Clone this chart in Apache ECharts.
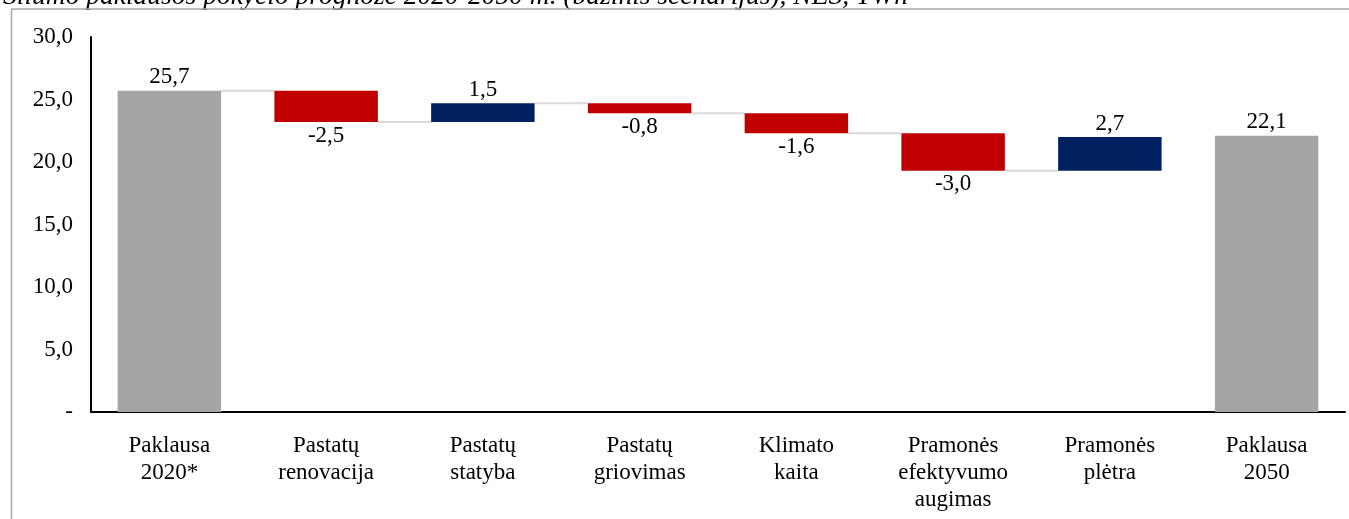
<!DOCTYPE html>
<html>
<head>
<meta charset="utf-8">
<script src="https://cdn.jsdelivr.net/npm/echarts@6/dist/echarts.min.js"></script>
<style>
html,body{margin:0;padding:0;background:#fff;}
#c{width:1349px;height:519px;}
</style>
</head>
<body>
<div id="c"></div>
<script>
const titleText = 'Šilumo paklausos pokyčio prognozė 2020-2050 m. (bazinis scenarijus), NES, TWh';
const categories = ['Paklausa\n2020*', 'Pastatų\nrenovacija', 'Pastatų\nstatyba', 'Pastatų\ngriovimas', 'Klimato\nkaita', 'Pramonės\nefektyvumo\naugimas', 'Pramonės\nplėtra', 'Paklausa\n2050'];
const startValue = 25.7;
const changes = [-2.5, 1.5, -0.8, -1.6, -3.0, 2.7];
const endValue = 22.1;
const yTicks = [0, 5, 10, 15, 20, 25, 30];

const GRAY = '#a5a5a5', RED = '#c00000', NAVY = '#002060';
const fmt = v => v.toFixed(1).replace('.', ',');

// build waterfall
const baseData = [0];
const barData = [{value: startValue, itemStyle: {color: GRAY}, lbl: fmt(startValue), pos: 'top'}];
const levels = [startValue];
let cur = startValue;
changes.forEach(d => {
  const next = +(cur + d).toFixed(4);
  baseData.push(Math.min(cur, next));
  barData.push({value: Math.abs(d), itemStyle: {color: d < 0 ? RED : NAVY}, lbl: fmt(d), pos: d < 0 ? 'bottom' : 'top'});
  cur = next;
  levels.push(cur);
});
baseData.push(0);
barData.push({value: endValue, itemStyle: {color: GRAY}, lbl: fmt(endValue), pos: 'top'});

const barSeriesData = barData.map(b => ({
  value: b.value, itemStyle: b.itemStyle,
  label: {show: true, position: b.pos, formatter: b.lbl, distance: 2}
}));
const connectorData = levels.map((l, i) => [i, l]);

const font = 'Liberation Serif';
const FS = 23;
const chart = echarts.init(document.getElementById('c'));
chart.setOption({
  animation: false,
  textStyle: {fontFamily: font, color: '#000'},
  title: {
    text: titleText, left: -2, top: -22,
    textStyle: {fontFamily: font, fontStyle: 'italic', fontWeight: 'normal', fontSize: 27.5, color: '#000'}
  },
  graphic: [
    {type: 'line', shape: {x1: 11.5, y1: 9, x2: 1349, y2: 9}, style: {stroke: '#a6a6a6', lineWidth: 1.5}, z: 100},
    {type: 'line', shape: {x1: 11.5, y1: 9, x2: 11.5, y2: 519}, style: {stroke: '#a6a6a6', lineWidth: 1.5}, z: 100}
  ],
  grid: {left: 91, right: 4, top: 37, bottom: 107, containLabel: false},
  xAxis: {
    type: 'category', data: categories,
    axisLine: {lineStyle: {color: '#000', width: 2}},
    axisTick: {show: false},
    axisLabel: {interval: 0, fontFamily: font, fontSize: FS, color: '#000', lineHeight: 27, margin: 20}
  },
  yAxis: {
    type: 'value', min: yTicks[0], max: yTicks[yTicks.length - 1], interval: 5,
    axisLine: {show: true, lineStyle: {color: '#000', width: 2}},
    axisTick: {show: false},
    splitLine: {show: false},
    axisLabel: {fontFamily: font, fontSize: FS, color: '#000', margin: 18,
      formatter: v => v === 0 ? '-' : fmt(v)}
  },
  series: [
    {type: 'bar', stack: 'w', data: baseData, barWidth: '66%',
      itemStyle: {color: 'transparent'}, emphasis: {disabled: true}, silent: true},
    {type: 'bar', stack: 'w', data: barSeriesData, barWidth: '66%',
      label: {fontFamily: font, fontSize: FS, color: '#000'}},
    {type: 'custom', data: connectorData.slice(0, connectorData.length - 1), z: 1,
      renderItem: function (params, api) {
        const i = api.value(0), l = api.value(1);
        const p1 = api.coord([i, l]);
        const p2 = api.coord([i + 1, l]);
        const bw = api.size([1, 0])[0] * 0.33;
        return {type: 'line', shape: {x1: p1[0] + bw, y1: p1[1], x2: p2[0] - bw, y2: p2[1]},
          style: {stroke: '#d9d9d9', lineWidth: 2}};
      }}
  ]
});
</script>
</body>
</html>
